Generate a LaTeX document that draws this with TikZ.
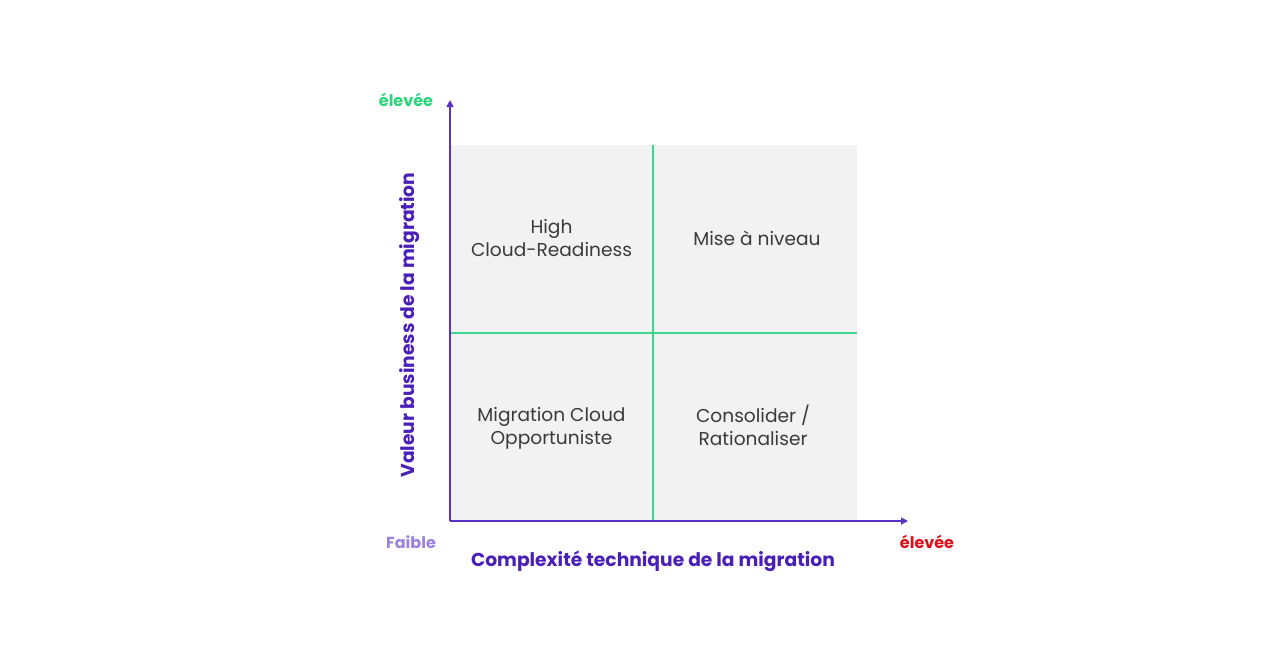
\documentclass[tikz,border=0pt]{standalone}
\usepackage{fontspec}
\setmainfont{Poppins}
\usetikzlibrary{arrows.meta}
\definecolor{axisc}{HTML}{5A32C8}
\definecolor{titlec}{HTML}{4A1FB8}
\definecolor{quadlinec}{RGB}{61,214,138}
\definecolor{boxc}{HTML}{F2F2F2}
\definecolor{hic}{HTML}{2BD67B}
\definecolor{loc}{HTML}{9B82E0}
\definecolor{redc}{HTML}{E0101A}
\definecolor{txtc}{HTML}{3A3A3A}
\tikzset{
  quad/.style={align=center, font=\fontsize{18.6}{23}\selectfont, text=txtc},
  axtitle/.style={font=\fontsize{18.7}{22}\selectfont\bfseries, text=titlec},
  corner/.style={font=\fontsize{16}{19}\selectfont\bfseries},
  axisline/.style={draw=axisc, line width=1.6pt, -{Triangle[length=7pt,width=7pt]}},
  quadline/.style={draw=quadlinec, line width=1.2pt}
}
\begin{document}
\begin{tikzpicture}[x=1pt,y=-1pt]
\useasboundingbox[fill=white] (0,0) rectangle (1280,654);
\fill[boxc] (450,145) rectangle (857,521);
\coordinate (o) at (450,521);
\coordinate (ytip) at (450,100);
\coordinate (xtip) at (908,521);
\coordinate (vt) at (653,145);
\coordinate (vb) at (653,521);
\coordinate (hl) at (450,333);
\coordinate (hr) at (857,333);
\path[quadline] (vt) -- (vb);
\path[quadline] (hl) -- (hr);
\draw[axisline] (o) -- (ytip);
\draw[axisline] (o) -- (xtip);
\node[quad] (q1) at (551.5,238) {High\\Cloud-Readiness};
\node[quad] (q2) at (757,238) {Mise à niveau};
\node[quad] (q3) at (551.5,428) {Migration Cloud\\Opportuniste};
\node[quad] (q4) at (753,425.5) {Consolider /\\Rationaliser};
\node[axtitle] (xt) at (653,561) {Complexité technique de la migration};
\node[axtitle, rotate=90] (yt) at (410,325) {Valeur business de la migration};
\node[corner, text=hic] (yhi) at (406,100) {élevée};
\node[corner, text=loc] (lo) at (411,542) {Faible};
\node[corner, text=redc] (xhi) at (927,542) {élevée};
\end{tikzpicture}
\end{document}
